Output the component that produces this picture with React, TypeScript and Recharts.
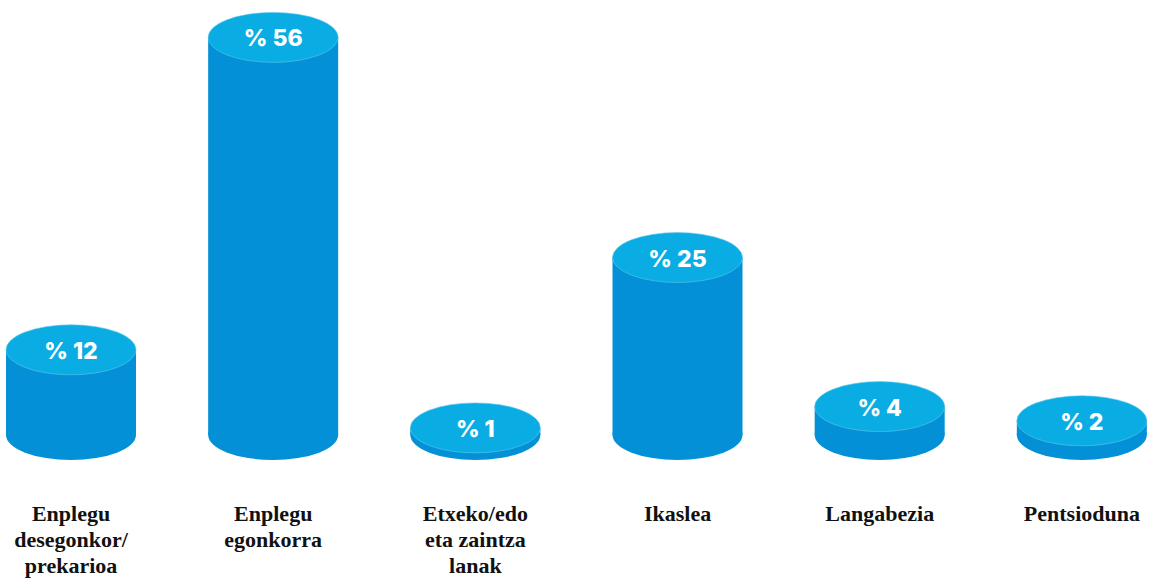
import React from 'react';
import { BarChart, Bar, XAxis, YAxis, LabelList } from 'recharts';

const categories = [
  'Enplegu\ndesegonkor/\nprekarioa',
  'Enplegu\negonkorra',
  'Etxeko/edo\neta zaintza\nlanak',
  'Ikaslea',
  'Langabezia',
  'Pentsioduna',
];
const percents = [12, 56, 1, 25, 4, 2];

const data = categories.map((name, i) => ({ name, value: percents[i] }));

const TOP = '#0aade3';
const BODY = '#0390d6';
const RY = 25;

const Cylinder = (props: any) => {
  const { x, y, width, height } = props;
  const cx = x + width / 2;
  const rx = width / 2;
  return (
    <g>
      <ellipse cx={cx} cy={y + height} rx={rx} ry={RY} fill={BODY} />
      <rect x={x} y={y} width={width} height={height} fill={BODY} />
      <ellipse cx={cx} cy={y} rx={rx} ry={RY} fill={TOP} stroke="#5cc7ec" strokeWidth={0.6} />
    </g>
  );
};

const TopLabel = (props: any) => {
  const { x, y, width, value } = props;
  return (
    <text
      x={x + width / 2}
      y={y + 1}
      textAnchor="middle"
      dominantBaseline="central"
      fill="#fff"
      fontFamily="Inter, 'Open Sans', sans-serif"
      fontWeight={800}
      fontSize={23}
    >
      {`% ${value}`}
    </text>
  );
};

const CategoryTick = (props: any) => {
  const { x, y, payload } = props;
  const lines = String(payload.value).split('\n');
  return (
    <text
      x={x}
      y={y + 78}
      textAnchor="middle"
      fill="#111"
      fontFamily="'Liberation Serif', 'DejaVu Serif', serif"
      fontWeight={700}
      fontSize={22}
    >
      {lines.map((l, i) => (
        <tspan key={i} x={x} dy={i === 0 ? 0 : 26}>
          {l}
        </tspan>
      ))}
    </text>
  );
};

export default function App() {
  return (
    <div style={{ position: 'absolute', left: 0, top: 0, width: 1160, height: 581, overflow: 'hidden', background: '#fff' }}>
      <div style={{ position: 'absolute', left: -30, top: 0 }}>
        <BarChart width={1213} height={581} data={data} margin={{ top: 9, right: 0, bottom: 0, left: 0 }}>
          <XAxis
            dataKey="name"
            height={146}
            axisLine={false}
            tickLine={false}
            tick={<CategoryTick />}
            interval={0}
          />
          <YAxis hide domain={[0, 60]} />
          <Bar dataKey="value" barSize={130} shape={<Cylinder />} isAnimationActive={false}>
            <LabelList dataKey="value" content={<TopLabel />} />
          </Bar>
        </BarChart>
      </div>
    </div>
  );
}
